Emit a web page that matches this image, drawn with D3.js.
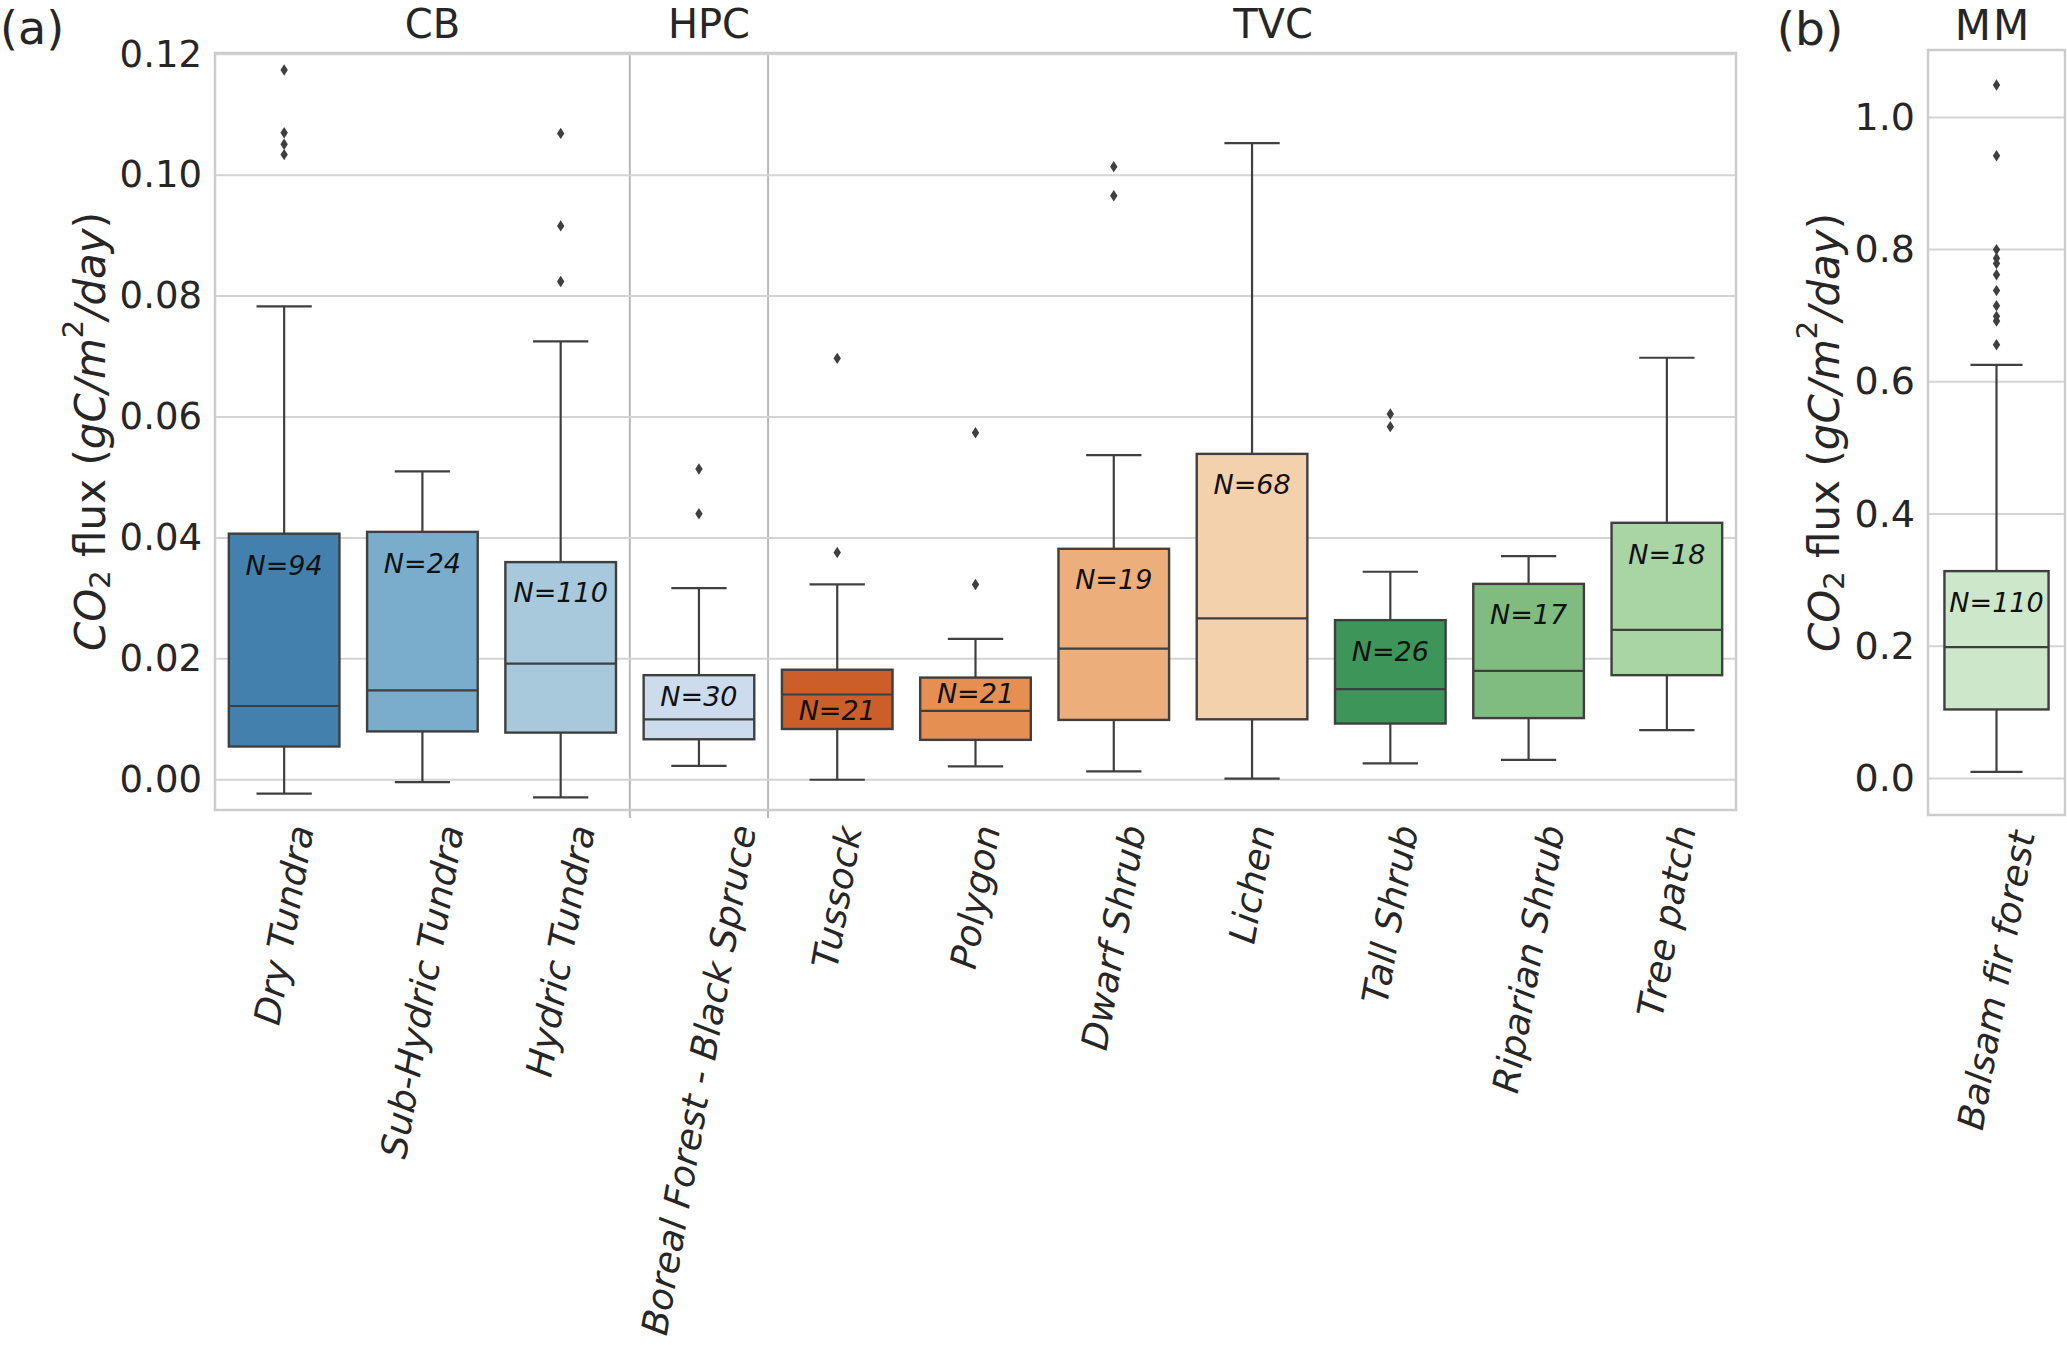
<!DOCTYPE html>
<html><head><meta charset="utf-8">
<script src="https://cdn.jsdelivr.net/npm/d3@7"></script>
<style>
body{margin:0;background:#fff}
svg text{font-family:"DejaVu Sans",sans-serif;fill:#262626}
</style></head>
<body><svg id="chart" width="2067" height="1345"></svg>
<script>
// ---------- Panel (a) data ----------
const categories = ["Dry Tundra","Sub-Hydric Tundra","Hydric Tundra","Boreal Forest - Black Spruce","Tussock","Polygon","Dwarf Shrub","Lichen","Tall Shrub","Riparian Shrub","Tree patch"];
const siteGroups = ["CB","HPC","TVC"];
const groupIndex = [0,0,0,1,2,2,2,2,2,2,2];
const whiskerLow  = [-0.0023,-0.0004,-0.0029,0.0023,0.0000,0.0022,0.0014,0.0002,0.0027,0.0033,0.0082];
const q1          = [0.0055,0.0080,0.0078,0.0067,0.0084,0.0066,0.0099,0.0100,0.0093,0.0102,0.0173];
const medians     = [0.0122,0.0148,0.0192,0.0100,0.0141,0.0114,0.0217,0.0267,0.0150,0.0180,0.0248];
const q3          = [0.0407,0.0410,0.0360,0.0173,0.0182,0.0169,0.0382,0.0539,0.0264,0.0324,0.0425];
const whiskerHigh = [0.0783,0.0510,0.0725,0.0317,0.0323,0.0233,0.0537,0.1053,0.0344,0.0370,0.0698];
const outliers = [
  [0.1174,0.1070,0.1051,0.1034],
  [],
  [0.1069,0.0916,0.0824],
  [0.0514,0.0440],
  [0.0697,0.0376],
  [0.0574,0.0323],
  [0.1014,0.0966],
  [],
  [0.0605,0.0584],
  [],
  []
];
const counts = [94,24,110,30,21,21,19,68,26,17,18];
const countLabelAt = [0.0355,0.0357,0.0309,0.0138,0.0114,0.0142,0.0331,0.0488,0.0212,0.0273,0.0373];
const colorsA = ["#4380ae","#7aadcc","#a8c8dc","#ccdcec","#cb5e29","#e59052","#ecaf7b","#f3d1ac","#3e955a","#80bb7f","#a9d4a3"];
const yTicksA = [0.00,0.02,0.04,0.06,0.08,0.10,0.12];

// ---------- Panel (b) data ----------
const categoriesB = ["Balsam fir forest"];
const siteB = "MM";
const whiskerLowB = [0.0099];
const q1B = [0.1043];
const mediansB = [0.1987];
const q3B = [0.3136];
const whiskerHighB = [0.6256];
const outliersB = [[1.049,0.942,0.800,0.787,0.779,0.762,0.738,0.715,0.699,0.692,0.656]];
const countsB = [110];
const countLabelAtB = [0.2654];
const colorsB = ["#cce7c9"];
const yTicksB = [0.0,0.2,0.4,0.6,0.8,1.0];

// ---------- layout ----------
const svg = d3.select("#chart");
const LINE = "#3f3f3f", GRID = "#d4d4d4";
const FS_N = 27, FS_LABEL = 42;

const A = {left:215,right:1736,top:53,bottom:810};
const B = {left:1928,right:2065,top:50,bottom:815};

const xA = d3.scaleBand().domain(categories).range([A.left,A.right]).padding(0);
const yA = d3.scaleLinear().domain([-0.005,0.1202]).range([A.bottom,A.top]);
const xB = d3.scaleBand().domain(categoriesB).range([B.left,B.right]).padding(0);
const yB = d3.scaleLinear().domain([-0.0554,1.102]).range([B.bottom,B.top]);

function diamond(g,x,y){
  g.append("path").attr("d",`M${x},${y-5.7}L${x+3.7},${y}L${x},${y+5.7}L${x-3.7},${y}Z`).attr("fill",LINE);
}

function drawPanel(P,x,y,cats,wl,lo,md,hi,wh,outs,ns,nAt,cols,ticks,fmt,boxFrac,fsTick,xFs){
  const g = svg.append("g");
  g.selectAll(".grid").data(ticks).enter().append("line")
    .attr("x1",P.left).attr("x2",P.right)
    .attr("y1",d=>y(d)).attr("y2",d=>y(d))
    .attr("stroke",GRID).attr("stroke-width",2);
  const bw = x.bandwidth();
  const boxW = bw*boxFrac;
  cats.forEach((c,i)=>{
    const cx = x(c)+bw/2;
    g.append("line").attr("x1",cx).attr("x2",cx).attr("y1",y(hi[i])).attr("y2",y(wh[i])).attr("stroke",LINE).attr("stroke-width",2.2);
    g.append("line").attr("x1",cx).attr("x2",cx).attr("y1",y(lo[i])).attr("y2",y(wl[i])).attr("stroke",LINE).attr("stroke-width",2.2);
    g.append("line").attr("x1",cx-boxW/4).attr("x2",cx+boxW/4).attr("y1",y(wh[i])).attr("y2",y(wh[i])).attr("stroke",LINE).attr("stroke-width",2.2);
    g.append("line").attr("x1",cx-boxW/4).attr("x2",cx+boxW/4).attr("y1",y(wl[i])).attr("y2",y(wl[i])).attr("stroke",LINE).attr("stroke-width",2.2);
    g.append("rect").attr("x",cx-boxW/2).attr("width",boxW)
      .attr("y",y(hi[i])).attr("height",y(lo[i])-y(hi[i]))
      .attr("fill",cols[i]).attr("stroke",LINE).attr("stroke-width",2.4);
    g.append("line").attr("x1",cx-boxW/2).attr("x2",cx+boxW/2).attr("y1",y(md[i])).attr("y2",y(md[i])).attr("stroke",LINE).attr("stroke-width",2.2);
    outs[i].forEach(v=>diamond(g,cx,y(v)));
    g.append("text").attr("x",cx).attr("y",y(nAt[i]))
      .attr("text-anchor","middle").attr("dominant-baseline","central")
      .style("font-style","italic").style("font-size",FS_N+"px").style("fill","#111")
      .text("N="+ns[i]);
  });
  const ax = g.append("g").attr("transform",`translate(${P.left},0)`)
    .call(d3.axisLeft(y).tickValues(ticks).tickFormat(d3.format(fmt)).tickSize(0).tickPadding(13));
  ax.select(".domain").remove();
  ax.selectAll("text").style("font-size",fsTick+"px").style("font-family","DejaVu Sans").attr("fill","#262626");
  const xa = g.append("g").attr("transform",`translate(0,${P.bottom})`)
    .call(d3.axisBottom(x).tickSize(0));
  xa.select(".domain").remove();
  xa.selectAll(".tick").each(function(d){
    const t = d3.select(this).select("text");
    t.attr("y",0).attr("dy",null).attr("text-anchor","middle").attr("dominant-baseline","central")
     .style("font-size",xFs+"px").style("font-style","italic").style("font-family","DejaVu Sans").attr("fill","#262626");
    const bb = t.node().getBBox();
    const a = 80*Math.PI/180;
    const H = bb.width*Math.sin(a)+bb.height*Math.cos(a);
    t.attr("transform",`translate(0,${12+H/2}) rotate(-80)`);
  });
  g.append("rect").attr("x",P.left).attr("y",P.top).attr("width",P.right-P.left).attr("height",P.bottom-P.top)
    .attr("fill","none").attr("stroke","#cccccc").attr("stroke-width",2.5);
  return g;
}

const gA = drawPanel(A,xA,yA,categories,whiskerLow,q1,medians,q3,whiskerHigh,outliers,counts,countLabelAt,colorsA,yTicksA,".2f",0.8,37,36.5);
for(let i=1;i<categories.length;i++){
  if(groupIndex[i]!==groupIndex[i-1]){
    const xs = xA(categories[i]);
    gA.insert("line",":first-child").attr("x1",xs).attr("x2",xs).attr("y1",A.top).attr("y2",A.bottom+8)
      .attr("stroke","#b8b8b8").attr("stroke-width",2);
  }
}
const titleShift = [10,10,21];
siteGroups.forEach((s,gi)=>{
  const idx = categories.filter((c,i)=>groupIndex[i]===gi);
  const x0 = xA(idx[0]), x1 = xA(idx[idx.length-1])+xA.bandwidth();
  svg.append("text").attr("x",(x0+x1)/2+titleShift[gi]).attr("y",38).attr("text-anchor","middle")
    .style("font-size","40px").text(s);
});

const gB = drawPanel(B,xB,yB,categoriesB,whiskerLowB,q1B,mediansB,q3B,whiskerHighB,outliersB,countsB,countLabelAtB,colorsB,yTicksB,".1f",0.76,38,36.5);
svg.append("text").attr("x",1993).attr("y",40).attr("text-anchor","middle")
  .style("font-size","42px").style("letter-spacing","2px").text(siteB);

svg.append("text").attr("x",0).attr("y",44).style("font-size","46px").text("(a)");
svg.append("text").attr("x",1810).attr("y",45).attr("text-anchor","middle").style("font-size","47px").text("(b)");

function yLabel(cx,cy){
  const t = svg.append("text").attr("transform",`translate(${cx},${cy}) rotate(-90)`)
    .attr("text-anchor","middle").attr("dominant-baseline","central").style("font-size",FS_LABEL+"px");
  t.append("tspan").style("font-style","italic").text("CO");
  t.append("tspan").attr("dy",10).style("font-size","29px").text("2");
  t.append("tspan").attr("dy",-10).text(" flux (");
  t.append("tspan").style("font-style","italic").text("gC/m");
  t.append("tspan").attr("dy",-17).style("font-size","29px").text("2");
  t.append("tspan").attr("dy",17).style("font-style","italic").text("/day");
  t.append("tspan").text(")");
}
yLabel(90,(A.top+A.bottom)/2);
yLabel(1824,(B.top+B.bottom)/2);
</script></body></html>
